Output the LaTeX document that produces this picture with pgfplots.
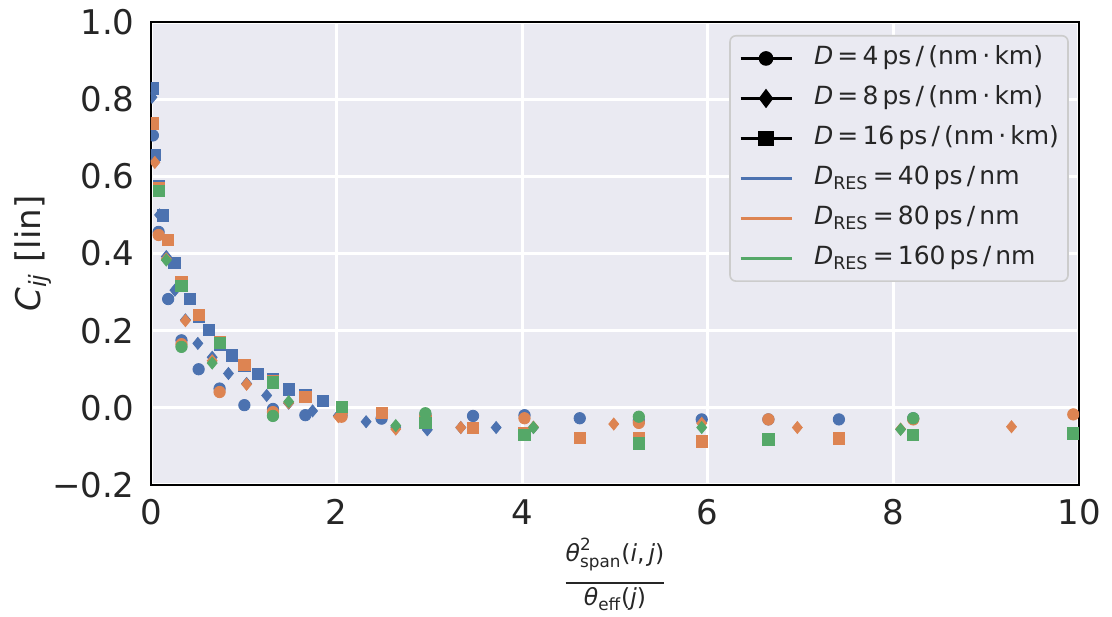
\documentclass[border=0pt]{standalone}
\usepackage{amsmath}
\usepackage{fontspec}
\setmainfont{DejaVu Sans}
\usepackage{pgfplots}
\pgfplotsset{compat=1.18}
\definecolor{cB}{HTML}{4C72B0}
\definecolor{cO}{HTML}{DD8452}
\definecolor{cG}{HTML}{55A868}
\definecolor{bg}{HTML}{EAEAF2}
\definecolor{txt}{HTML}{262626}
\definecolor{lgray}{HTML}{CCCCCC}
\begin{document}
\begin{tikzpicture}
\begin{axis}[
  name=ax,
  scale only axis, width=464pt, height=231.5pt,
  xmin=0, xmax=10, ymin=-0.2, ymax=1.0,
  xtick={0,2,4,6,8,10}, xticklabels={0,2,4,6,8,10},
  ytick={-0.2,0,0.2,0.4,0.6,0.8,1.0},
  yticklabels={−0.2,0.0,0.2,0.4,0.6,0.8,1.0},
  major tick length=0pt,
  axis background/.style={fill=bg},
  axis line style={draw=black, line width=1pt},
  grid=major, major grid style={white, line width=1.6pt},
  tick label style={font=\fontsize{17}{20}\selectfont, text=txt},
  xticklabel style={anchor=north, inner sep=0pt, yshift=-7pt},
  yticklabel style={anchor=east, inner sep=0pt, xshift=-8pt},
  clip marker paths=true,
  xlabel={$\genfrac{}{}{1.1pt}{1}{\text{\itshape θ}^{\text{2}}_{\text{span}}\text{(\itshape i\/\upshape,\,\itshape j\/\upshape)\rule[-9pt]{0pt}{1pt}}}{\text{\rule{0pt}{9.5pt}\itshape θ}_{\text{eff}}\text{(\itshape j\/\upshape)}}$},
  xlabel style={at={(axis description cs:0.5,-0.113)}, anchor=north, inner sep=0pt, font=\fontsize{16.8}{19}\selectfont, text=txt},
  ylabel={\textit{C}\textsubscript{\textit{ij}} [lin]},
  ylabel style={at={(axis description cs:-0.127,0.5)}, anchor=center, inner sep=0pt, font=\fontsize{17}{20}\selectfont, text=txt},
  legend image code/.code={\draw[sharp corners, #1, mark repeat=2, mark phase=2] plot coordinates {(0pt,0pt) (12.75pt,0pt) (25.5pt,0pt)};},
  legend cell align=left,
  legend style={at={(0.989,0.972)}, anchor=north east, draw=lgray, line width=0.8pt, fill=bg, rounded corners=3pt,
    font=\fontsize{12.5}{14}\selectfont, text=txt, inner xsep=4.5pt, inner ysep=5.5pt, row sep=8.3pt,
    nodes={inner sep=0pt, text height=9pt, text depth=2.7pt},
    /tikz/every odd column/.append style={column sep=10.5pt}},
]
\addlegendimage{black, line width=1.3pt, mark=*, mark size=3pt, mark options={solid}}
\addlegendentry{\textit{D}\,=\,4\,ps\,/\,(nm\,·\,km)}
\addlegendimage{black, line width=1.3pt, mark=diamond*, mark size=3.8pt, mark options={solid}}
\addlegendentry{\textit{D}\,=\,8\,ps\,/\,(nm\,·\,km)}
\addlegendimage{black, line width=1.3pt, mark=square*, mark size=3.2pt, mark options={solid}}
\addlegendentry{\textit{D}\,=\,16\,ps\,/\,(nm\,·\,km)}
\addlegendimage{cB, line width=1.5pt}
\addlegendentry{\textit{D}\textsubscript{RES}\,=\,40\,ps\,/\,nm}
\addlegendimage{cO, line width=1.5pt}
\addlegendentry{\textit{D}\textsubscript{RES}\,=\,80\,ps\,/\,nm}
\addlegendimage{cG, line width=1.5pt}
\addlegendentry{\textit{D}\textsubscript{RES}\,=\,160\,ps\,/\,nm}

% blue
\addplot[forget plot, only marks, mark=*, mark size=2.85pt, color=cB] coordinates {
(0.0205,0.706) (0.0821,0.456) (0.1848,0.282) (0.3285,0.175) (0.5133,0.100) (0.7392,0.050) (1.0062,0.007) (1.3142,-0.003) (1.6632,-0.019) (2.0534,-0.019) (2.4846,-0.028) (2.9569,-0.018) (3.4702,-0.021) (4.0246,-0.019) (4.6201,-0.027) (5.2567,-0.033) (5.9343,-0.030) (6.6530,-0.030) (7.4127,-0.030) (8.2136,-0.027)};
\addplot[forget plot, only marks, mark=diamond*, mark size=3pt, mark options={xscale=1.1}, color=cB] coordinates {
(0.0103,0.805) (0.0412,0.640) (0.0927,0.500) (0.1648,0.392) (0.2576,0.305) (0.3709,0.228) (0.5048,0.167) (0.6594,0.131) (0.8345,0.089) (1.0303,0.063) (1.2467,0.032) (1.4836,0.012) (1.7412,-0.008) (2.0194,-0.020) (2.3181,-0.036) (2.6375,-0.050) (2.9775,-0.057) (3.3381,-0.051) (3.7194,-0.051) (4.1212,-0.051)};
\addplot[forget plot, only marks, mark=square*, mark size=2.8pt, color=cB] coordinates {
(0.0205,0.828) (0.0462,0.655) (0.0821,0.576) (0.1283,0.499) (0.1848,0.436) (0.2515,0.375) (0.3285,0.326) (0.4158,0.282) (0.5133,0.236) (0.6211,0.202) (0.7392,0.164) (0.8676,0.136) (1.0062,0.108) (1.1550,0.088) (1.3142,0.076) (1.4836,0.048) (1.6632,0.034) (1.8532,0.018) (2.0534,0.000)};
% orange
\addplot[forget plot, only marks, mark=*, mark size=2.85pt, color=cO] coordinates {
(0.0821,0.448) (0.3285,0.165) (0.7392,0.041) (1.3142,-0.011) (2.0534,-0.023) (2.9569,-0.020) (4.0246,-0.027) (5.2567,-0.039) (6.6530,-0.030) (8.2136,-0.030) (9.9384,-0.017)};
\addplot[forget plot, only marks, mark=diamond*, mark size=3pt, mark options={xscale=1.1}, color=cO] coordinates {
(0.0412,0.636) (0.1648,0.386) (0.3709,0.226) (0.6594,0.122) (1.0303,0.061) (1.4836,0.013) (2.0194,-0.023) (2.6375,-0.055) (3.3381,-0.051) (4.1212,-0.050) (4.9866,-0.042) (5.9345,-0.040) (6.9648,-0.051) (8.0775,-0.055) (9.2726,-0.049)};
\addplot[forget plot, only marks, mark=square*, mark size=2.8pt, color=cO] coordinates {
(0.0205,0.737) (0.0821,0.570) (0.1848,0.435) (0.3285,0.327) (0.5133,0.240) (0.7392,0.170) (1.0062,0.112) (1.3142,0.070) (1.6632,0.029) (2.0534,0.000) (2.4846,-0.014) (2.9569,-0.034) (3.4702,-0.053) (4.0246,-0.064) (4.6201,-0.077) (5.2567,-0.079) (5.9343,-0.087) (6.6530,-0.082) (7.4127,-0.079) (8.2136,-0.070) (9.9384,-0.066)};
% green
\addplot[forget plot, only marks, mark=*, mark size=2.85pt, color=cG] coordinates {
(0.3285,0.158) (1.3142,-0.021) (2.9569,-0.014) (5.2567,-0.023) (8.2136,-0.027)};
\addplot[forget plot, only marks, mark=diamond*, mark size=3pt, mark options={xscale=1.1}, color=cG] coordinates {
(0.1648,0.383) (0.6594,0.116) (1.4836,0.016) (2.6375,-0.046) (4.1212,-0.051) (5.9345,-0.051) (8.0775,-0.056)};
\addplot[forget plot, only marks, mark=square*, mark size=2.8pt, color=cG] coordinates {
(0.0821,0.563) (0.3285,0.316) (0.7392,0.169) (1.3142,0.066) (2.0534,0.002) (2.9569,-0.040) (4.0246,-0.070) (5.2567,-0.092) (6.6530,-0.082) (8.2136,-0.070) (9.9384,-0.066)};
\end{axis}
\pgfresetboundingbox
\path[use as bounding box] ([shift={(-75.5pt,-65.5pt)}]ax.south west) rectangle ([shift={(16.5pt,11pt)}]ax.north east);
\end{tikzpicture}
\end{document}
